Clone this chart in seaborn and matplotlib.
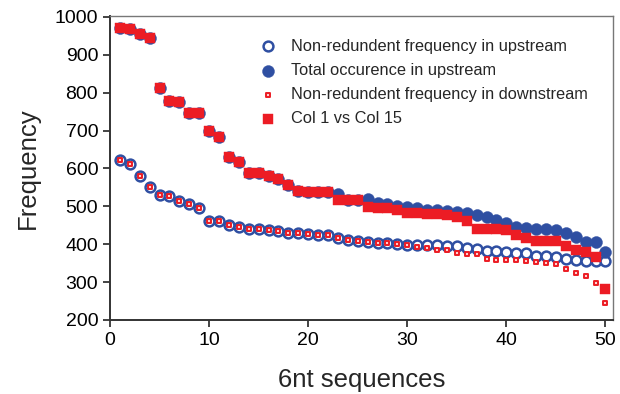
import matplotlib
matplotlib.use("Agg")
import matplotlib.pyplot as plt
import seaborn as sns
import pandas as pd

positions = list(range(1, 51))

upstream_nonredundant = [623, 611, 579, 550, 530, 526, 515, 507, 495, 462,
                         461, 451, 445, 441, 441, 437, 435, 430, 429, 426,
                         424, 423, 415, 410, 408, 407, 404, 402, 400, 398,
                         398, 397, 397, 395, 394, 389, 386, 383, 381, 380,
                         377, 376, 369, 368, 367, 362, 357, 356, 355, 355]

upstream_total = [970, 968, 954, 945, 812, 779, 775, 747, 747, 698,
                  684, 629, 617, 589, 587, 580, 571, 555, 541, 539,
                  539, 539, 533, 517, 516, 519, 508, 506, 501, 497,
                  495, 491, 489, 487, 486, 481, 477, 473, 464, 457,
                  446, 444, 441, 439, 437, 429, 420, 407, 407, 380]

downstream_nonredundant = [623, 611, 579, 550, 530, 526, 515, 507, 495, 462,
                           461, 451, 445, 441, 441, 437, 435, 430, 429, 426,
                           424, 423, 415, 410, 408, 407, 404, 402, 400, 398,
                           393, 391, 385, 384, 376, 374, 374, 362, 359, 358,
                           357, 356, 352, 350, 347, 334, 324, 317, 298, 246]

col1_vs_col15 = [970, 968, 954, 945, 812, 779, 775, 747, 747, 698,
                 684, 629, 617, 589, 587, 580, 571, 555, 541, 539,
                 539, 539, 517, 516, 516, 499, 496, 495, 490, 483,
                 481, 479, 479, 477, 473, 461, 441, 441, 440, 438,
                 424, 415, 408, 408, 408, 395, 384, 379, 366, 282]

labels = ["Non-redundent frequency in upstream",
          "Total occurence in upstream",
          "Non-redundent frequency in downstream",
          "Col 1 vs Col 15"]

BLUE = "#2F4FA2"
RED = "#EC1C24"

sns.set_style("ticks")
plt.rcParams['font.family'] = ['Liberation Sans', 'DejaVu Sans']

fig = plt.figure(figsize=(6.2, 3.94), dpi=100)
ax = fig.add_axes([0.1774, 0.188, 0.812, 0.772])

df1 = pd.DataFrame({"x": positions, "y": upstream_nonredundant})
df2 = pd.DataFrame({"x": positions, "y": upstream_total})
df3 = pd.DataFrame({"x": positions, "y": downstream_nonredundant})
df4 = pd.DataFrame({"x": positions, "y": col1_vs_col15})

sns.scatterplot(data=df1, x="x", y="y", ax=ax, marker="o", s=50,
                facecolor="white", edgecolor=BLUE, linewidth=1.8,
                label=labels[0], zorder=2)
sns.scatterplot(data=df2, x="x", y="y", ax=ax, marker="o", s=74,
                color=BLUE, edgecolor=BLUE, linewidth=0.3,
                label=labels[1], zorder=3)
sns.scatterplot(data=df3, x="x", y="y", ax=ax, marker="s", s=9,
                facecolor="#FFD0D0", edgecolor=RED, linewidth=1.4,
                label=labels[2], zorder=5)
sns.scatterplot(data=df4, x="x", y="y", ax=ax, marker="s", s=60,
                color=RED, edgecolor=RED, linewidth=0.3,
                label=labels[3], zorder=4)

ax.set_xlim(0, 50.8)
ax.set_ylim(200, 1003)
ax.set_xticks(range(0, 51, 10))
ax.set_yticks(range(200, 1001, 100))
ax.tick_params(axis="both", labelsize=14, length=5, width=1.2, direction="out",
               colors="#222222")
ax.tick_params(axis="both", labelcolor="black")
for side in ["left", "bottom"]:
    ax.spines[side].set_linewidth(1.4)
    ax.spines[side].set_color("#333333")
for side in ["top", "right"]:
    ax.spines[side].set_visible(True)
    ax.spines[side].set_linewidth(1.0)
    ax.spines[side].set_color("#777777")

ax.set_xlabel("6nt sequences", fontsize=18.5, labelpad=14)
ax.set_ylabel("Frequency", fontsize=18.5, labelpad=11)

leg = ax.legend(loc="upper right", bbox_to_anchor=(0.972, 0.962), frameon=False,
                fontsize=11.8, handletextpad=0.9, labelspacing=0.55,
                borderaxespad=0.3, handlelength=1.0)

fig.savefig("out.png", dpi=100)
